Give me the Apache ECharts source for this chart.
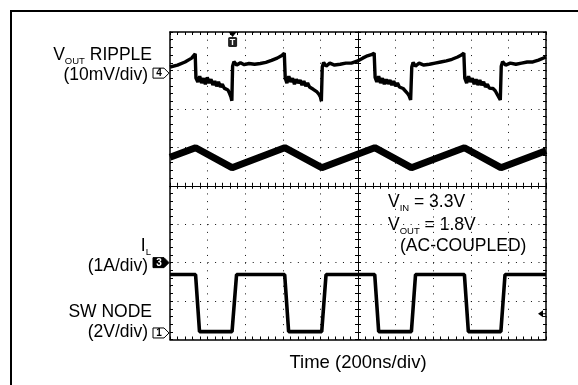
<!DOCTYPE html>
<html>
<head>
<meta charset="utf-8">
<script src="https://cdn.jsdelivr.net/npm/echarts@6/dist/echarts.min.js"></script>
<style>
  html, body { margin: 0; padding: 0; background: #fff; }
  #chart { width: 578px; height: 385px; }
</style>
</head>
<body>
<div id="chart"></div>
<script>
// Time base: ns measured from the screen centre, 200 ns/div over 10 divisions
const timeMinNs = -1000;
const timeMaxNs = 1000;
const nsPerDiv = 200;
const vertDivs = 4; // divisions above / below the centre line

// SW node (channel 1), volts: [time ns, V]
const swNodeVolts = [
  [-1000, 3.04], [-864, 3.04], [-843, 0.07], [-670, 0.07], [-646, 3.04],
  [-390, 3.04], [-369, 0.07], [-193, 0.07], [-170, 3.04],
  [89, 3.04], [110, 0.07], [284, 0.07], [306, 3.04],
  [566, 3.04], [587, 0.07], [760, 0.07], [782, 3.04], [1000, 3.04]
];

// Inductor current (channel 3), amps: [time ns, A]
const inductorAmps = [
  [-1000, 2.74], [-864, 2.99], [-670, 2.47], [-390, 2.99], [-193, 2.47],
  [89, 2.99], [284, 2.47], [566, 2.99], [760, 2.47], [1000, 2.91]
];

// Output ripple (channel 4, AC-coupled), millivolts: [time ns, mV]
const rippleMillivolts = [
  [-1000, 1.6], [-960, 2.1], [-920, 2.9], [-885, 3.9], [-866, 5.0],
  [-862, -1.3], [-852, -2.3], [-842, -0.8], [-832, -2.6], [-822, -1.3], [-812, -2.9], [-802, -1.1],
  [-792, -2.6], [-782, -1.6], [-772, -3.1], [-762, -2.1], [-752, -3.4], [-742, -2.3], [-732, -3.6],
  [-722, -2.9], [-712, -3.9], [-702, -3.4], [-692, -4.4], [-684, -5.2], [-676, -6.2], [-671, -7.2],
  [-667, 1.8], [-660, 3.0], [-645, 2.1], [-625, 2.7], [-605, 2.2], [-580, 2.5], [-550, 2.3],
  [-520, 2.5], [-490, 2.8], [-460, 3.3], [-430, 3.9], [-405, 4.6], [-392, 5.2],
  [-387, -1.3], [-378, -2.6], [-368, -0.8], [-358, -2.3], [-348, -1.3], [-338, -2.9], [-328, -1.6],
  [-318, -2.6], [-308, -1.8], [-298, -3.1], [-288, -2.1], [-278, -3.4], [-268, -2.6], [-258, -3.6],
  [-248, -3.1], [-238, -4.2], [-228, -3.9], [-218, -4.9], [-208, -5.5], [-200, -6.2], [-195, -7.3],
  [-190, 1.6], [-183, 2.8], [-170, 1.8], [-150, 2.6], [-125, 2.1], [-95, 2.3], [-65, 2.6],
  [-35, 2.6], [-5, 3.1], [25, 3.9], [50, 4.5], [75, 4.9], [86, 5.2],
  [91, -1.1], [100, -2.3], [110, -0.8], [120, -2.6], [130, -1.3], [140, -2.9], [150, -1.6],
  [160, -2.8], [170, -1.8], [180, -3.1], [190, -2.1], [200, -3.4], [210, -2.6], [220, -3.6],
  [230, -3.1], [240, -4.0], [250, -4.4], [262, -5.2], [272, -5.9], [280, -7.0],
  [286, 1.6], [293, 2.8], [305, 1.8], [325, 2.6], [350, 2.1], [380, 2.3], [410, 2.6],
  [440, 2.9], [470, 3.2], [500, 3.6], [530, 4.2], [550, 4.7], [563, 5.2],
  [568, -1.3], [578, -2.6], [588, -0.8], [598, -2.3], [608, -1.3], [618, -2.9], [628, -1.6],
  [638, -3.1], [648, -1.8], [658, -3.1], [668, -2.3], [678, -3.6], [688, -2.9], [698, -3.9],
  [708, -3.6], [718, -4.0], [730, -4.6], [740, -5.5], [750, -6.0], [757, -7.0],
  [762, 1.8], [769, 3.0], [785, 2.1], [810, 2.6], [840, 2.3], [870, 2.6], [900, 2.9],
  [930, 2.9], [960, 3.4], [1000, 4.2]
];

// Vertical scale (units per division) and ground-marker level (divisions from centre)
const rippleScale = { perDiv: 10, groundDiv: 2.93 };
const currentScale = { perDiv: 1, groundDiv: -2.0 };
const swNodeScale = { perDiv: 2, groundDiv: -3.83 };

// Trigger settings
const triggerTimeNs = -667;
const triggerLevelV = 1.0;

const FONT = '"Liberation Sans", Arial, Helvetica, sans-serif';

const toDivs = (points, ch) => points.map(([t, v]) => [t, v / ch.perDiv + ch.groundDiv]);

const tickLine = { color: '#000', width: 1 };

function edgeAxis(kind, position, withSplit) {
  const isX = kind === 'x';
  const split = isX ? [1, 307.5 / 40 - 1] : [1, 376 / 50 - 1];
  return {
    type: 'value',
    position: position,
    min: isX ? timeMinNs : -vertDivs,
    max: isX ? timeMaxNs : vertDivs,
    interval: isX ? nsPerDiv : 1,
    axisLine: { show: true, onZero: false, lineStyle: { color: '#000', width: 1.5 } },
    axisTick: { show: true, inside: true, length: 3, lineStyle: tickLine },
    minorTick: { show: true, splitNumber: 5, length: 3, lineStyle: tickLine },
    axisLabel: { show: false },
    splitLine: { show: withSplit, lineStyle: { color: '#111', width: 1, type: split } }
  };
}

function centreAxis(kind, position) {
  const ax = edgeAxis(kind, position, false);
  ax.axisLine = { show: true, onZero: true, onZeroAxisIndex: 0, lineStyle: { color: '#000', width: 1 } };
  return ax;
}

const option = {
  animation: false,
  backgroundColor: '#fff',
  grid: { left: 170, top: 32, width: 376, height: 307.5, containLabel: false },
  xAxis: [
    edgeAxis('x', 'bottom', true),
    edgeAxis('x', 'top', false),
    centreAxis('x', 'bottom'),
    centreAxis('x', 'top')
  ],
  yAxis: [
    edgeAxis('y', 'left', true),
    edgeAxis('y', 'right', false),
    centreAxis('y', 'left'),
    centreAxis('y', 'right')
  ],
  series: [
    {
      name: 'VOUT RIPPLE', type: 'line', xAxisIndex: 0, yAxisIndex: 0,
      showSymbol: false, symbol: 'none', silent: true,
      lineStyle: { color: '#000', width: 3.4 },
      data: toDivs(rippleMillivolts, rippleScale)
    },
    {
      name: 'IL', type: 'line', xAxisIndex: 0, yAxisIndex: 0,
      showSymbol: false, symbol: 'none', silent: true,
      lineStyle: { color: '#000', width: 7 },
      data: toDivs(inductorAmps, currentScale)
    },
    {
      name: 'SW NODE', type: 'line', xAxisIndex: 0, yAxisIndex: 0,
      showSymbol: false, symbol: 'none', silent: true,
      lineStyle: { color: '#000', width: 3.6 },
      data: toDivs(swNodeVolts, swNodeScale)
    }
  ]
};

const chart = echarts.init(document.getElementById('chart'), null, { renderer: 'canvas' });
chart.setOption(option);

const toPx = (t, div) => chart.convertToPixel({ seriesIndex: 0 }, [t, div]);
const plotLeft = toPx(timeMinNs, 0)[0];
const plotRight = toPx(timeMaxNs, 0)[0];
const plotTop = toPx(0, vertDivs)[1];

const richMain = { fontSize: 17.5, fontFamily: FONT, lineHeight: 20, verticalAlign: 'top', fill: '#000' };
const richSub = { fontSize: 9.5, fontFamily: FONT, lineHeight: 12, verticalAlign: 'bottom', fill: '#000' };
const richWide = { fontSize: 18.5, fontFamily: FONT, lineHeight: 20, verticalAlign: 'top', fill: '#000' };

function label(x, y, text, align) {
  return {
    type: 'text', x: x, y: y, silent: true,
    style: {
      text: text, align: align || 'right', verticalAlign: 'middle',
      rich: { m: richMain, s: richSub, w: richWide }
    }
  };
}

function channelMarker(div, glyph, filled) {
  const y = toPx(0, div)[1];
  const x = plotLeft;
  return {
    type: 'group', silent: true,
    children: [
      {
        type: 'polygon',
        shape: { points: [[x - 17, y - 5], [x - 6, y - 5], [x - 1, y], [x - 6, y + 5], [x - 17, y + 5]] },
        style: { fill: filled ? '#000' : '#fff', stroke: '#000', lineWidth: 1 }
      },
      {
        type: 'text', x: x - 11, y: y + 0.5,
        style: { text: glyph, fontSize: 10, fontWeight: 'bold', fontFamily: FONT, fill: filled ? '#fff' : '#000', align: 'center', verticalAlign: 'middle' }
      }
    ]
  };
}

const trigX = toPx(triggerTimeNs, 0)[0];
const trigY = toPx(0, triggerLevelV / swNodeScale.perDiv + swNodeScale.groundDiv)[1];

chart.setOption({
  graphic: [
    // page frame
    { type: 'rect', silent: true, shape: { x: 11, y: 11, width: 640, height: 440 }, style: { fill: 'none', stroke: '#000', lineWidth: 2 } },
    // channel names and scales
    label(152, 56, '{m|V}{s|OUT}{m| RIPPLE}'),
    label(148, 76, '{m|(10mV/div)}'),
    label(151, 247, '{m|I}{s|L}'),
    label(148, 267, '{m|(1A/div)}'),
    label(152, 313, '{m|SW NODE}'),
    label(148, 333, '{m|(2V/div)}'),
    // operating conditions
    label(388, 203, '{m|V}{s|IN}{m| = 3.3V}', 'left'),
    label(388, 226, '{m|V}{s|OUT}{m| = 1.8V}', 'left'),
    label(400, 247, '{m|(AC-COUPLED)}', 'left'),
    // time base
    label(358, 363, '{w|Time (200ns/div)}', 'center'),
    // ground markers
    channelMarker(rippleScale.groundDiv, '4', false),
    channelMarker(currentScale.groundDiv, '3', true),
    channelMarker(swNodeScale.groundDiv, '1', false),
    // trigger position marker
    {
      type: 'group', silent: true,
      children: [
        { type: 'polygon', shape: { points: [[trigX - 4, plotTop], [trigX + 4, plotTop], [trigX, plotTop + 5]] }, style: { fill: '#000' } },
        { type: 'rect', shape: { x: trigX - 4.5, y: plotTop + 5, width: 9, height: 10, r: 1.5 }, style: { fill: '#222' } },
        { type: 'text', x: trigX, y: plotTop + 10.5, style: { text: 'T', fontSize: 9, fontWeight: 'bold', fontFamily: FONT, fill: '#fff', align: 'center', verticalAlign: 'middle' } }
      ]
    },
    // trigger level marker
    {
      type: 'group', silent: true,
      children: [
        { type: 'polygon', shape: { points: [[plotRight - 8, trigY], [plotRight - 3, trigY - 3.5], [plotRight - 3, trigY + 3.5]] }, style: { fill: '#000' } },
        { type: 'line', shape: { x1: plotRight - 3, y1: trigY, x2: plotRight, y2: trigY }, style: { stroke: '#000', lineWidth: 1 } }
      ]
    }
  ]
});
</script>
</body>
</html>
